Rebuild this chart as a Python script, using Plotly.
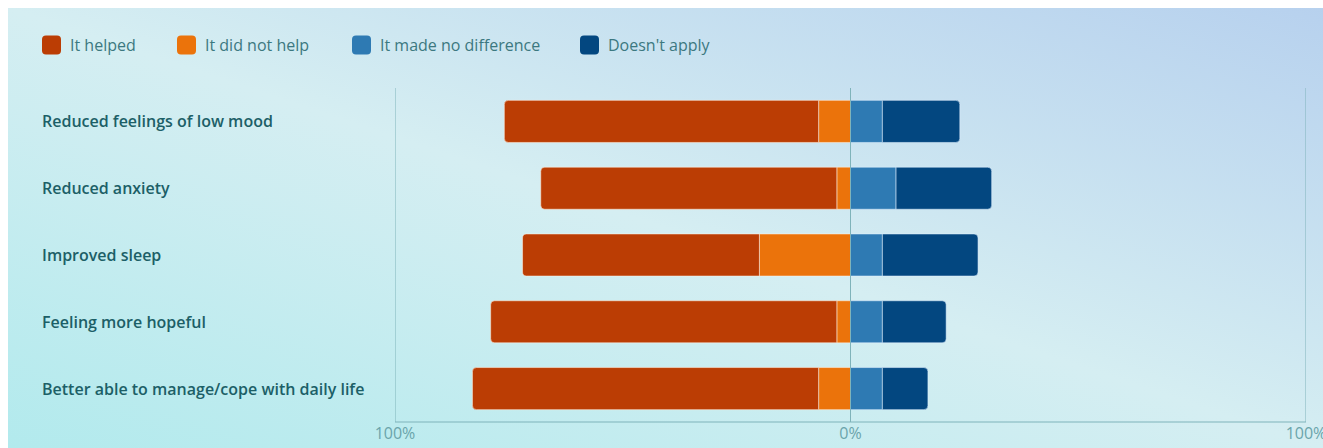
import base64
import plotly.graph_objects as go

categories = [
    "Reduced feelings of low mood",
    "Reduced anxiety",
    "Improved sleep",
    "Feeling more hopeful",
    "Better able to manage/cope with daily life",
]
helped = [69, 65, 52, 76, 76]
did_not_help = [7, 3, 20, 3, 7]
no_difference = [7, 10, 7, 7, 7]
doesnt_apply = [17, 21, 21, 14, 10]

series_names = ["It helped", "It did not help", "It made no difference", "Doesn't apply"]
series_colors = ["#bb3d04", "#eb730b", "#2e7ab3", "#034780"]

tick_vals = [-100, 0, 100]
tick_text = ["100%", "0%", "100%"]

# figure sits at page offset (8, 8); right/bottom body margins removed so it fills the window
W, H = 1315, 440
ML, MR, MT, MB = 387, 17, 80, 26
PW, PH = W - ML - MR, H - MT - MB


def px_x(p):
    return (p - ML) / PW


def px_y(p):
    return (H - MB - p) / PH


fig = go.Figure()

neg = [(1, did_not_help), (0, helped)]
pos = [(2, no_difference), (3, doesnt_apply)]
for idx, vals in neg:
    fig.add_trace(go.Bar(
        y=categories, x=[-v for v in vals], orientation="h",
        name=series_names[idx], marker=dict(color=series_colors[idx],
                                            line=dict(color="rgba(255,240,225,0.55)", width=1)),
        showlegend=False, customdata=vals,
        hovertemplate="%{y}: %{customdata}%<extra>" + series_names[idx] + "</extra>",
    ))
for idx, vals in pos:
    fig.add_trace(go.Bar(
        y=categories, x=vals, orientation="h",
        name=series_names[idx], marker=dict(color=series_colors[idx],
                                            line=dict(color="rgba(225,240,255,0.55)", width=1)),
        showlegend=False,
        hovertemplate="%{y}: %{x}%<extra>" + series_names[idx] + "</extra>",
    ))

svg = f'''<svg xmlns="http://www.w3.org/2000/svg" width="{W}" height="{H}" preserveAspectRatio="none">
<defs><linearGradient id="g" x1="0" y1="1" x2="1" y2="0">
<stop offset="0" stop-color="#b2eaed"/>
<stop offset="0.5" stop-color="#d5eef2"/>
<stop offset="1" stop-color="#b7d1ee"/>
</linearGradient></defs>
<rect x="0" y="0" width="{W}" height="{H}" fill="url(#g)"/>
</svg>'''
src = "data:image/svg+xml;base64," + base64.b64encode(svg.encode()).decode()
fig.add_layout_image(dict(source=src, xref="paper", yref="paper",
                          x=px_x(0), y=px_y(0), sizex=W / PW, sizey=H / PH,
                          xanchor="left", yanchor="top", sizing="stretch", layer="below"))

line_col = "#7fb3ba"
for v in tick_vals:
    fig.add_shape(type="line", xref="x", yref="paper", x0=v, x1=v, y0=0, y1=1,
                  line=dict(color=line_col, width=1), layer="above" if v == 0 else "below")
fig.add_shape(type="line", xref="x", yref="paper", x0=tick_vals[0], x1=tick_vals[-1], y0=0, y1=0,
              line=dict(color=line_col, width=1), layer="below")

for c in categories:
    fig.add_annotation(text=c, xref="paper", yref="y", x=px_x(32), y=c,
                       xanchor="left", yanchor="middle", showarrow=False,
                       font=dict(family="Open Sans", size=16, color="#1c5f67", weight=600))

leg_sq_x = [34, 169, 344, 572]
sq = 19
r = 4
ycen = 37
for i, name in enumerate(series_names):
    x0p, x1p = leg_sq_x[i], leg_sq_x[i] + sq
    y0p, y1p = ycen - sq / 2, ycen + sq / 2
    path = (f"M {px_x(x0p + r)},{px_y(y0p)} L {px_x(x1p - r)},{px_y(y0p)} "
            f"Q {px_x(x1p)},{px_y(y0p)} {px_x(x1p)},{px_y(y0p + r)} "
            f"L {px_x(x1p)},{px_y(y1p - r)} Q {px_x(x1p)},{px_y(y1p)} {px_x(x1p - r)},{px_y(y1p)} "
            f"L {px_x(x0p + r)},{px_y(y1p)} Q {px_x(x0p)},{px_y(y1p)} {px_x(x0p)},{px_y(y1p - r)} "
            f"L {px_x(x0p)},{px_y(y0p + r)} Q {px_x(x0p)},{px_y(y0p)} {px_x(x0p + r)},{px_y(y0p)} Z")
    fig.add_shape(type="path", xref="paper", yref="paper", path=path,
                  fillcolor=series_colors[i], line=dict(width=0))
    fig.add_annotation(text=name, xref="paper", yref="paper", x=px_x(x1p + 7), y=px_y(ycen),
                       xanchor="left", yanchor="middle", showarrow=False,
                       font=dict(family="Open Sans", size=16, color="#3c7880"))

fig.update_layout(
    width=W, height=H,
    margin=dict(l=ML, r=MR, t=MT, b=MB, pad=0, autoexpand=False),
    paper_bgcolor="white", plot_bgcolor="rgba(0,0,0,0)",
    barmode="relative", bargap=0.37, barcornerradius=4,
    showlegend=False,
    xaxis=dict(range=[-100, 100], tickvals=tick_vals, ticktext=tick_text,
               showgrid=False, zeroline=False, showline=False, ticks="",
               automargin=False, ticklabelstandoff=0, ticklabeloverflow="allow",
               tickfont=dict(family="Open Sans", size=16, color="#6aa4ab"), fixedrange=True),
    yaxis=dict(categoryorder="array", categoryarray=categories, autorange="reversed",
               automargin=False,
               showticklabels=False, showgrid=False, zeroline=False, fixedrange=True),
)

fig.write_html("out.html", post_script="document.body.style.margin='8px 0 0 8px';")
